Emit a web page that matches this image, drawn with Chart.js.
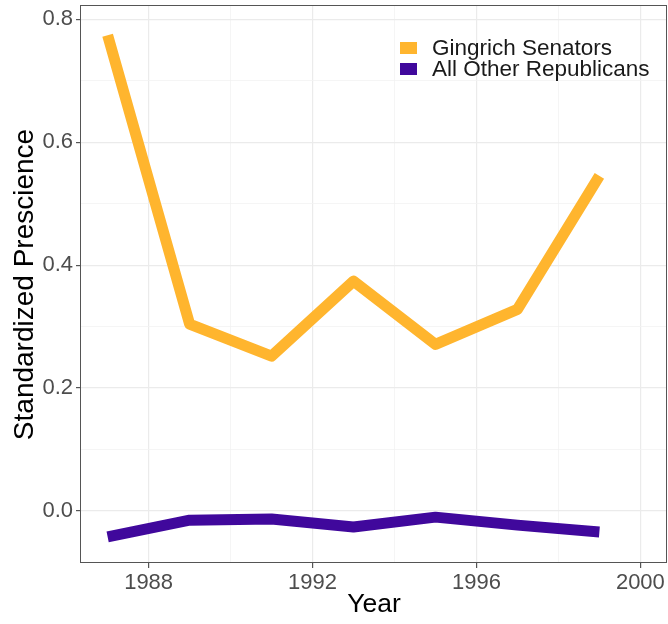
<!DOCTYPE html>
<html lang="en">
<head>
    <meta charset="UTF-8">
    <title>Standardized Prescience</title>
    <script src="https://cdn.jsdelivr.net/npm/chart.js@4.4.1/dist/chart.umd.min.js"></script>
    <style>
        html, body {margin:0; padding:0; background:#fff;}
        #wrap {width:668px; height:624px;}
    </style>
</head>
<body>
<div id="wrap">
    <canvas id="lineChart" width="668" height="624"></canvas>
</div>

<script>
    const years = [1987, 1989, 1991, 1993, 1995, 1997, 1999]
    const gingrich = [0.774, 0.304, 0.252, 0.374, 0.271, 0.328, 0.545]
    const others = [-0.042, -0.015, -0.013, -0.026, -0.010, -0.023, -0.034]
    const seriesNames = ['Gingrich Senators', 'All Other Republicans']
    const xGridValues = [1988, 1990, 1992, 1994, 1996, 1998, 2000]
    const xTickLabels = [1988, 1992, 1996, 2000]
    const yGridValues = [0, 0.1, 0.2, 0.3, 0.4, 0.5, 0.6, 0.7, 0.8]
    const yTickLabels = [0, 0.2, 0.4, 0.6, 0.8]

    const colors = ['#FFB52E', '#40089C']
    const fontFamily = '"Liberation Sans", Arial, sans-serif'

    function isLabelled(list, v) {
        return list.some(t => Math.abs(t - v) < 1e-6)
    }

    // ggplot style panel border + legend inside the panel
    const panelPlugin = {
        id: 'panel',
        afterDraw(chart) {
            const ctx = chart.ctx
            const a = chart.chartArea
            ctx.save()
            ctx.strokeStyle = '#555'
            ctx.lineWidth = 1
            ctx.strokeRect(Math.round(a.left) - 0.5, Math.round(a.top) - 0.5,
                Math.round(a.right - a.left), Math.round(a.bottom - a.top))

            // legend
            ctx.font = '22.5px ' + fontFamily
            ctx.textBaseline = 'middle'
            ctx.textAlign = 'left'
            chart.data.datasets.forEach(function(ds, i) {
                const y = 48 + i * 21
                ctx.fillStyle = ds.borderColor
                ctx.fillRect(400, y - 6, 17, 12)
                ctx.fillStyle = '#1a1a1a'
                ctx.fillText(ds.label, 432, y + 1)
            })
            ctx.restore()
        }
    }

    const config = {
        type: 'line',
        data: {
            datasets: [
                {
                    label: seriesNames[0],
                    data: years.map((y, i) => ({x: y, y: gingrich[i]})),
                    borderColor: colors[0],
                    backgroundColor: colors[0]
                },
                {
                    label: seriesNames[1],
                    data: years.map((y, i) => ({x: y, y: others[i]})),
                    borderColor: colors[1],
                    backgroundColor: colors[1]
                }
            ]
        },
        options: {
            responsive: false,
            animation: false,
            devicePixelRatio: 1,
            layout: {padding: {top: 6, right: 1, left: 0, bottom: 0}},
            elements: {
                line: {borderWidth: 11, tension: 0, borderCapStyle: 'butt', borderJoinStyle: 'round'},
                point: {radius: 0, hoverRadius: 0}
            },
            plugins: {
                legend: {display: false},
                tooltip: {enabled: false}
            },
            scales: {
                x: {
                    type: 'linear',
                    min: 1986.35,
                    max: 2000.65,
                    afterBuildTicks: s => { s.ticks = xGridValues.map(v => ({value: v})) },
                    afterFit: s => { s.height = 61; s.paddingLeft = 0; s.paddingRight = 0 },
                    grid: {
                        color: c => isLabelled(xTickLabels, c.tick.value) ? '#EBEBEB' : '#F3F3F3',
                        lineWidth: c => isLabelled(xTickLabels, c.tick.value) ? 1.2 : 0.8,
                        tickColor: c => isLabelled(xTickLabels, c.tick.value) ? '#555' : 'rgba(0,0,0,0)',
                        tickLength: 5
                    },
                    border: {display: false},
                    ticks: {
                        autoSkip: false,
                        maxRotation: 0,
                        padding: 2,
                        color: '#4D4D4D',
                        font: {family: fontFamily, size: 22},
                        callback: v => isLabelled(xTickLabels, v) ? String(v) : ''
                    },
                    title: {
                        display: true,
                        text: 'Year',
                        color: '#000',
                        font: {family: fontFamily, size: 26.5},
                        padding: {top: 0, bottom: 3}
                    }
                },
                y: {
                    min: -0.0846,
                    max: 0.8215,
                    afterBuildTicks: s => { s.ticks = yGridValues.map(v => ({value: v})) },
                    afterFit: s => { s.width = 81; s.paddingTop = 0; s.paddingBottom = 0 },
                    grid: {
                        color: c => isLabelled(yTickLabels, c.tick.value) ? '#EBEBEB' : '#F3F3F3',
                        lineWidth: c => isLabelled(yTickLabels, c.tick.value) ? 1.2 : 0.8,
                        tickColor: c => isLabelled(yTickLabels, c.tick.value) ? '#555' : 'rgba(0,0,0,0)',
                        tickLength: 5
                    },
                    border: {display: false},
                    ticks: {
                        autoSkip: false,
                        padding: 3,
                        color: '#4D4D4D',
                        font: {family: fontFamily, size: 22},
                        callback: v => isLabelled(yTickLabels, v) ? v.toFixed(1) : ''
                    },
                    title: {
                        display: true,
                        text: 'Standardized Prescience',
                        color: '#000',
                        font: {family: fontFamily, size: 28},
                        padding: {top: 8, bottom: 0}
                    }
                }
            }
        },
        plugins: [panelPlugin]
    }

    const ctx = document.querySelector('#lineChart').getContext('2d')
    const lineChart = new Chart(ctx, config)
</script>
</body>
</html>
